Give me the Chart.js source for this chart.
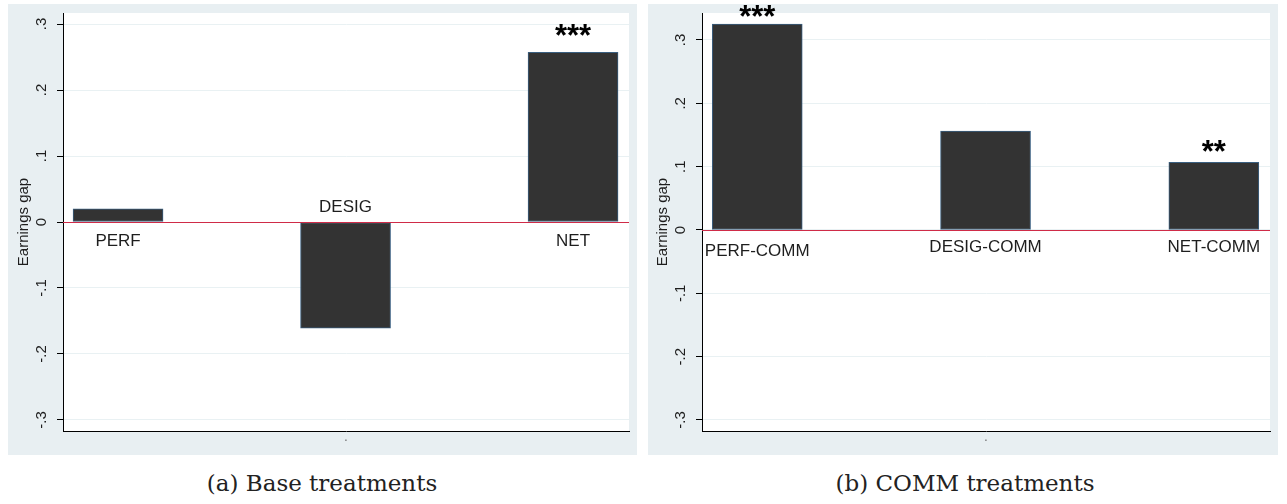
<!DOCTYPE html>
<html>
<head>
<meta charset="utf-8">
<script src="https://cdn.jsdelivr.net/npm/chart.js@4.4.1/dist/chart.umd.min.js"></script>
<style>
  body { margin: 0; background: #fff; width: 1287px; height: 504px; position: relative; overflow: hidden; }
  .panel { position: absolute; top: 4px; width: 629px; height: 451px; background: #e8eff2; }
  .caption { position: absolute; top: 470px; font: 23px "DejaVu Serif", serif; color: #222; text-align: center; width: 400px; }
</style>
</head>
<body>
<div class="panel" style="left:8px"><canvas id="chartA"></canvas></div>
<div class="panel" style="left:648px; width:630px"><canvas id="chartB"></canvas></div>
<div class="caption" style="left:122px">(a) Base treatments</div>
<div class="caption" style="left:765px">(b) COMM treatments</div>
<script>
// ── data ────────────────────────────────────────────────────────────────────
const Y_TICKS = [-0.3, -0.2, -0.1, 0, 0.1, 0.2, 0.3];

const baseLabels = ["PERF", "DESIG", "NET"];
const baseGap    = [0.020, -0.161, 0.257];
const baseLabelY = [-0.030, 0.023, -0.030];   // where Stata put the bar names
const baseStars  = ["", "", "***"];
const baseStarY  = [null, null, 0.289];

const commLabels = ["PERF-COMM", "DESIG-COMM", "NET-COMM"];
const commGap    = [0.325, 0.156, 0.107];
const commLabelY = [-0.033, -0.027, -0.027];
const commStars  = ["***", "", "**"];
const commStarY  = [0.343, null, 0.131];

// ── helpers ─────────────────────────────────────────────────────────────────
function tickText(v) {
  if (v === 0) return "0";
  const s = Math.abs(v).toFixed(1).replace(/^0/, "");
  return (v < 0 ? "-" : "") + s;
}

const textPlugin = {
  id: "stataText",
  beforeDraw(c) {
    const { ctx, chartArea: a } = c;
    ctx.save();
    ctx.fillStyle = "#fff";
    ctx.fillRect(a.left, a.top, a.right - a.left, a.bottom - a.top);
    ctx.restore();
  },
  afterDatasetsDraw(c) {
    const { ctx, chartArea: a, scales: { x, y } } = c;
    const o = c.options.plugins.stataText;
    ctx.save();
    // zero line
    const y0 = Math.round(y.getPixelForValue(0)) + 0.5;
    ctx.strokeStyle = "#cf2b48"; ctx.lineWidth = 1;
    ctx.beginPath(); ctx.moveTo(a.left, y0); ctx.lineTo(a.right, y0); ctx.stroke();

    ctx.textAlign = "center"; ctx.textBaseline = "middle";
    // bar names
    ctx.fillStyle = "#1e1e1e";
    ctx.font = '17px "Liberation Sans", Arial, sans-serif';
    o.labels.forEach((t, i) => {
      ctx.fillText(t, x.getPixelForValue(i + 1), y.getPixelForValue(o.labelY[i]));
    });
    // significance stars
    ctx.fillStyle = "#000";
    ctx.font = 'bold 31px "Liberation Sans", Arial, sans-serif';
    o.stars.forEach((t, i) => {
      if (t) ctx.fillText(t, x.getPixelForValue(i + 1), y.getPixelForValue(o.starY[i]) + 6);
    });
    ctx.restore();
  },
  afterDraw(c) {
    const { ctx, chartArea: a, scales: { y } } = c;
    ctx.save();
    ctx.fillStyle = "#1e1e1e";
    ctx.textAlign = "center"; ctx.textBaseline = "middle";
    ctx.font = '15px "Liberation Sans", Arial, sans-serif';
    for (const v of Y_TICKS) {
      ctx.save();
      ctx.translate(a.left - 21, y.getPixelForValue(v));
      ctx.rotate(-Math.PI / 2);
      ctx.fillText(tickText(v), 0, 0);
      ctx.restore();
    }
    // axis title
    ctx.save();
    ctx.translate(a.left - 39, (a.top + a.bottom) / 2);
    ctx.rotate(-Math.PI / 2);
    ctx.font = '15px "Liberation Sans", Arial, sans-serif';
    ctx.fillText("Earnings gap", 0, 0);
    ctx.restore();
    // empty x-axis title (Stata shows ".")
    ctx.font = '12px "Liberation Sans", Arial, sans-serif';
    ctx.fillStyle = "#666";
    ctx.fillText(".", (a.left + a.right) / 2, a.bottom + 7);
    ctx.restore();
  }
};

function makeChart(id, labels, gap, labelY, stars, starY, yMin, yMax, axisW) {
  return new Chart(document.getElementById(id), {
    type: "bar",
    data: {
      datasets: [{
        data: gap.map((v, i) => ({ x: i + 1, y: v })),
        backgroundColor: "#333333",
        borderColor: "#3a5f80",
        borderWidth: 1,
        borderSkipped: false,
        barThickness: 90,
      }],
    },
    options: {
      responsive: true, maintainAspectRatio: false, animation: false,
      layout: { padding: { top: 9, right: 8, bottom: 24, left: 0 } },
      plugins: {
        legend: { display: false }, tooltip: { enabled: false },
        stataText: { labels, labelY, stars, starY },
      },
      scales: {
        x: {
          type: "linear", min: 0.758, max: 3.246, offset: false,
          grid: { display: false, offset: false },
          ticks: { display: false },
          border: { display: true, color: "#000", width: 1 },
          afterFit: s => { s.height = 0; },
        },
        y: {
          min: yMin, max: yMax,
          afterBuildTicks: s => { s.ticks = Y_TICKS.map(v => ({ value: v })); },
          ticks: { display: false },
          grid: { color: "#e9f1f3", tickColor: "#000", tickLength: 6, lineWidth: 1 },
          border: { display: true, color: "#000", width: 1 },
          afterFit: s => { s.width = axisW; },
        },
      },
    },
    plugins: [textPlugin],
  });
}

makeChart("chartA", baseLabels, baseGap, baseLabelY, baseStars, baseStarY, -0.3167, 0.3167, 55);
makeChart("chartB", commLabels, commGap, commLabelY, commStars, commStarY, -0.3174, 0.3426, 54);
</script>
</body>
</html>
